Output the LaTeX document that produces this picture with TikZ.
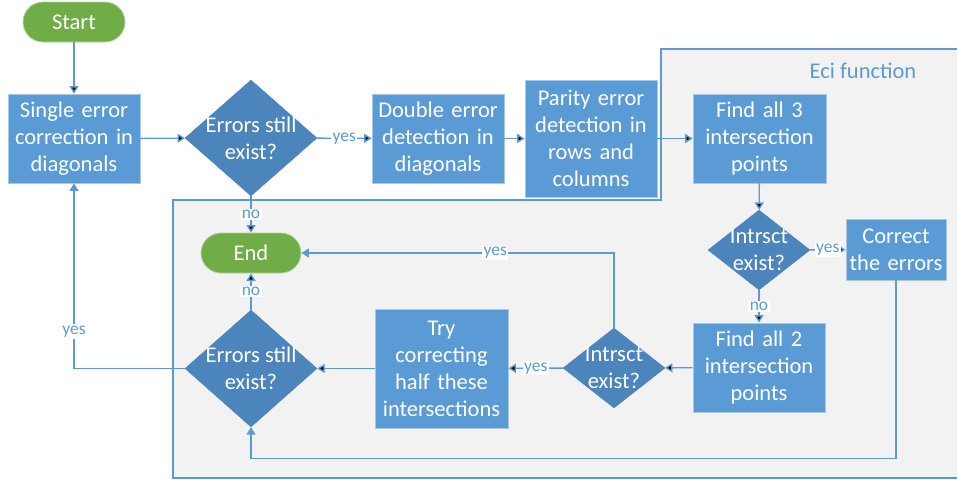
\documentclass[tikz,border=0pt]{standalone}
\usepackage{fontspec}
\setmainfont{Carlito}
\usetikzlibrary{shapes.geometric,arrows.meta}
\definecolor{boxblue}{HTML}{5B9BD5}
\definecolor{decblue}{HTML}{4C84BC}
\definecolor{termgreen}{HTML}{70AD47}
\definecolor{ecigrey}{HTML}{F2F2F2}
\newcommand{\bigtext}{\fontsize{22.5}{27}\selectfont}
\newcommand{\smalltext}{\fontsize{17.5}{19}\selectfont}

\begin{document}
\begin{tikzpicture}[x=1pt,y=-1pt]
	\tikzstyle{process}=[rectangle,fill=boxblue,draw=boxblue!55!white,line width=0.8pt,text=white,align=center,inner sep=2pt,font=\bigtext]
	\tikzstyle{decision}=[diamond,fill=decblue,draw=decblue,inner sep=0pt]
	\tikzstyle{dectext}=[text=white,align=center,font=\bigtext]
	\tikzstyle{terminal}=[rectangle,rounded corners=20pt,fill=termgreen,draw=termgreen!55!white,line width=0.8pt,text=white,font=\bigtext,minimum height=40pt]
	\tikzstyle{flow}=[draw=boxblue,line width=1.4pt,-{Triangle[length=7.5pt,width=9pt]}]
	\tikzstyle{tag}=[fill=white,inner sep=1.5pt,text=boxblue,font=\smalltext]
	\useasboundingbox (0,0) rectangle (957,479);
	% the Eci function part
	\filldraw[fill=ecigrey,draw=boxblue,line width=1.2pt] (661,49) -- (962,49) -- (962,478) -- (173,478) -- (173,200) -- (661,200) -- cycle;
	\node [text=boxblue,font=\bigtext] (eci) at (863,71) {Eci function};
	\begin{scope}
		\node [terminal,minimum width=102pt] (start) at (74,22) {Start};
		\node [process,minimum width=132pt,minimum height=89pt,text width=126pt] (single) at (74,138.5) {Single error\\correction in\\diagonals};
		\node [decision,minimum width=132pt,minimum height=116pt,label={[dectext]center:{Errors still\\exist?}}] (dec1) at (251,138) {};
		\node [process,minimum width=132pt,minimum height=89pt,text width=126pt] (double) at (438,138.5) {Double error\\detection in\\diagonals};
		\node [process,minimum width=132pt,minimum height=117pt,text width=126pt] (parity) at (591,138.5) {Parity error\\detection in\\rows and\\columns};
		\node [process,minimum width=133pt,minimum height=89pt,text width=127pt] (find3) at (759.5,138.5) {Find all 3\\intersection\\points};
		\node [decision,minimum width=102pt,minimum height=80pt,label={[dectext]center:{Intrsct\\exist?}}] (int1) at (759,250) {};
		\node [process,minimum width=100pt,minimum height=61pt,text width=98pt,inner sep=1pt] (correct) at (896,249.5) {Correct\\the errors};
		\node [process,minimum width=132pt,minimum height=89pt,text width=126pt] (find2) at (759,367.5) {Find all 2\\intersection\\points};
		\node [decision,minimum width=102pt,minimum height=80pt,label={[dectext]center:{Intrsct\\exist?}}] (int2) at (614,368) {};
		\node [process,minimum width=133pt,minimum height=119pt,text width=127pt] (try) at (441.5,368.5) {Try\\correcting\\half these\\intersections};
		\node [decision,minimum width=132pt,minimum height=117pt,label={[dectext]center:{Errors still\\exist?}}] (dec2) at (251,368.5) {};
		\node [terminal,minimum width=100pt] (end) at (251,253) {End};
		% connectors
		\path[flow] (start) edge (single);
		\path[flow] (single) edge (dec1);
		\path[flow] (dec1) edge node[tag] {yes} (double);
		\path[flow] (dec1) edge node[tag] {no} (end);
		\path[flow] (double) edge (parity);
		\path[flow] (parity) edge (find3);
		\path[flow] (find3) edge (int1);
		\path[flow] (int1) edge node[tag] {yes} (correct);
		\path[flow] (int1) edge node[tag] {no} (find2);
		\path[flow] (find2) edge (int2);
		\path[flow] (int2) edge node[tag] {yes} (try);
		\path[flow] (try) edge (dec2);
		\path[flow] (dec2) edge node[tag] {no} (end);
		\draw[flow] (int2.north) |- node[tag,pos=0.69] {yes} (end.east);
		\draw[flow] (dec2.west) -| node[tag,pos=0.6] {yes} (single.south);
		\draw[flow] (correct.south) |- ([yshift=-31pt]dec2.south) -- (dec2.south);
	\end{scope}
\end{tikzpicture}
\end{document}
